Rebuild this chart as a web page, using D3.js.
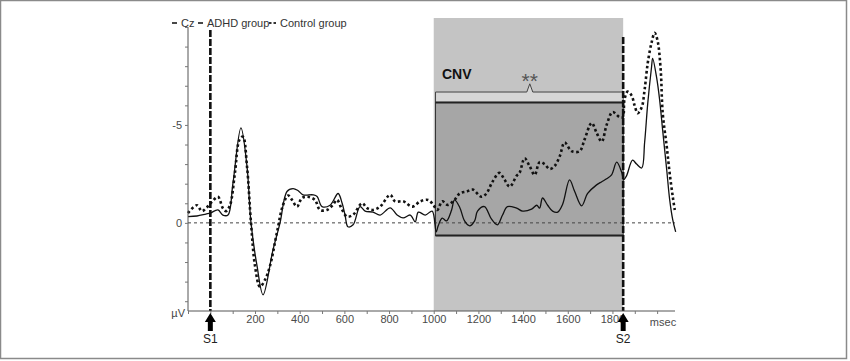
<!DOCTYPE html>
<html>
<head>
<meta charset="utf-8">
<script src="https://cdn.jsdelivr.net/npm/d3@7"></script>
<style>
  body { margin: 0; background: #fff; }
  svg { display: block; font-family: "Liberation Sans", Arial, sans-serif; }
</style>
</head>
<body>
<svg id="chart" width="850" height="361"></svg>
<script>
// ADHD group (solid), [msec, µV] - negative up
var adhdData = [
  [-100,-0.32],[-60,-0.35],[-20,-0.45],[0,-0.5],[34,-0.66],[56,-0.4],[79,-0.4],[101,-2.0],
  [137,-4.85],[164,-2.9],[182,0],[209,2.2],[236,3.67],[280,1.4],[312,0],[343,-1.6],[370,-1.75],
  [392,-1.65],[415,-1.43],[460,-1.43],[478,-1.35],[500,-0.83],[536,-0.9],[572,-1.5],[590,-1.0],
  [603,-0.4],[616,0.2],[639,0.1],[670,-0.83],[693,-0.6],[728,-0.55],[760,-0.4],[805,-0.77],
  [836,-0.4],[863,-0.25],[895,-0.4],[917,-0.05],[931,-0.55],[962,-0.4],[993,-0.6],[1011,0.46],
  [1020,0.15],[1038,-0.24],[1057,-0.1],[1080,-0.66],[1093,-1.17],[1116,-0.8],[1138,-0.1],
  [1161,0.15],[1183,-0.1],[1196,-0.6],[1227,-0.83],[1258,-0.2],[1285,0.1],[1308,-0.4],
  [1330,-0.83],[1371,-0.75],[1398,-0.6],[1438,-0.7],[1461,-0.9],[1474,-0.75],[1487,-1.27],
  [1510,-0.9],[1532,-0.6],[1555,-0.55],[1577,-0.95],[1608,-2.19],[1631,-1.6],[1662,-0.87],
  [1689,-1.5],[1729,-1.94],[1752,-2.1],[1774,-2.25],[1796,-2.45],[1819,-3.1],[1841,-2.6],
  [1850,-2.2],[1863,-2.4],[1890,-3.2],[1908,-3.0],[1931,-2.8],[1944,-4.1],[1958,-6.1],
  [1975,-7.96],[1980,-8.4],[1998,-7.4],[2011,-6.3],[2025,-4.7],[2043,-2.7],[2056,-1.2],
  [2070,-0.15],[2083,0.46]
];

// Control group (dotted)
var controlData = [
  [-100,-0.5],[-60,-0.9],[-38,-0.6],[-15,-0.8],[7,-1.07],[34,-1.33],[56,-0.75],[70,-0.6],
  [88,-0.9],[110,-2.55],[130,-4.23],[146,-4.4],[164,-2.9],[182,0],[200,2.2],[222,3.26],
  [245,2.9],[267,2.2],[298,0.5],[325,-0.9],[348,-1.4],[366,-1.17],[388,-0.83],[410,-1.27],
  [437,-1.33],[468,-1.17],[491,-0.66],[522,-0.66],[549,-0.92],[567,-1.17],[590,-0.66],
  [612,-0.32],[639,-0.41],[679,-1.0],[702,-0.75],[728,-0.66],[760,-0.83],[805,-1.43],
  [827,-1.1],[863,-1.1],[904,-0.83],[940,-1.1],[975,-1.17],[998,-0.92],[1016,-0.66],
  [1038,-1.1],[1062,-0.92],[1093,-1.17],[1116,-1.5],[1147,-1.6],[1174,-1.7],[1214,-1.33],
  [1236,-1.5],[1263,-2.1],[1294,-2.55],[1317,-2.2],[1340,-1.85],[1371,-2.4],[1384,-2.55],
  [1407,-3.3],[1429,-2.9],[1452,-2.45],[1474,-3.1],[1496,-3.0],[1519,-2.75],[1541,-2.9],
  [1564,-3.4],[1586,-4.1],[1617,-3.66],[1653,-3.66],[1675,-4.25],[1707,-5.1],[1729,-4.6],
  [1752,-4.15],[1774,-5.0],[1801,-5.66],[1832,-5.4],[1846,-5.4],[1854,-6.3],[1868,-6.7],
  [1886,-6.5],[1899,-6.0],[1913,-5.6],[1931,-5.9],[1944,-6.8],[1958,-8.16],[1975,-9.2],
  [1989,-9.7],[2002,-9.3],[2016,-7.8],[2025,-5.6],[2043,-3.9],[2056,-2.55],[2070,-1.33],
  [2079,-0.66]
];

var xTicks = d3.range(-100, 2001, 100);
var xLabels = [200, 400, 600, 800, 1000, 1200, 1400, 1600, 1800];
var yTicks = d3.range(-10, 5, 1);
var yLabels = [-5, 0];
var stimuli = [{name: 'S1', t: 0}, {name: 'S2', t: 1848}];
var shadeWindow = [1000, 1848];          // light gray window (msec)
var cnvWindow = [1008, 1848];            // CNV measurement box (msec)
var cnvRange = [-6.15, 0.65];            // CNV box µV
var bracketLevel = -6.68, bracketPeak = -7.1, bracketPeakT = 1430;

var svg = d3.select('#chart');

var x = d3.scaleLinear().domain([-100, 2080]).range([188, 675]);
var y = d3.scaleLinear().domain([-10, 4.5]).range([27, 311]);
var axisY = 311;

// frame
svg.append('rect').attr('x', 0.5).attr('y', 0.5).attr('width', 846).attr('height', 358)
  .attr('fill', 'none').attr('stroke', '#8a8a8a').attr('stroke-width', 1.5);

// light window
svg.append('rect')
  .attr('x', x(shadeWindow[0])).attr('y', 18)
  .attr('width', x(shadeWindow[1]) - x(shadeWindow[0])).attr('height', axisY - 18)
  .attr('fill', '#c4c4c4');

// bracket
var bx0 = x(cnvWindow[0]), bx1 = x(cnvWindow[1]), bp = x(bracketPeakT);
svg.append('path')
  .attr('d', 'M' + bx0 + ',' + y(cnvRange[0]) + 'V' + y(bracketLevel) + 'H' + (bp - 3) +
    'L' + bp + ',' + y(bracketPeak) + 'L' + (bp + 3) + ',' + y(bracketLevel) + 'H' + bx1 +
    'V' + y(cnvRange[0]))
  .attr('fill', '#d6d6d6').attr('stroke', '#444').attr('stroke-width', 1);

// CNV box
svg.append('rect')
  .attr('x', bx0).attr('y', y(cnvRange[0]))
  .attr('width', bx1 - bx0).attr('height', y(cnvRange[1]) - y(cnvRange[0]))
  .attr('fill', '#a6a6a6').attr('stroke', '#333').attr('stroke-width', 1);
svg.append('line').attr('x1', bx0).attr('x2', bx1)
  .attr('y1', y(cnvRange[0])).attr('y2', y(cnvRange[0]))
  .attr('stroke', '#222').attr('stroke-width', 2);
svg.append('line').attr('x1', bx0).attr('x2', bx1)
  .attr('y1', y(cnvRange[1])).attr('y2', y(cnvRange[1]))
  .attr('stroke', '#222').attr('stroke-width', 2);

svg.append('text').attr('x', 442).attr('y', 79)
  .attr('font-size', 14).attr('font-weight', 'bold').attr('fill', '#111').text('CNV');
svg.append('text').attr('x', bp).attr('y', 88).attr('text-anchor', 'middle')
  .attr('font-size', 21).attr('fill', '#555').text('**');

// zero line
svg.append('line').attr('x1', x(-100)).attr('x2', x(2080))
  .attr('y1', y(0)).attr('y2', y(0))
  .attr('stroke', '#444').attr('stroke-width', 1).attr('stroke-dasharray', '3,3');

var line = d3.line()
  .x(function (d) { return x(d[0]); })
  .y(function (d) { return y(d[1]); })
  .curve(d3.curveCatmullRom.alpha(0.5));

svg.append('path').datum(adhdData).attr('d', line)
  .attr('fill', 'none').attr('stroke', '#111').attr('stroke-width', 1.3);
svg.append('path').datum(controlData).attr('d', line)
  .attr('fill', 'none').attr('stroke', '#111').attr('stroke-width', 2.6)
  .attr('stroke-dasharray', '2.6,2.6');

// stimulus lines
stimuli.forEach(function (s, i) {
  svg.append('line').attr('x1', x(s.t)).attr('x2', x(s.t))
    .attr('y1', i === 0 ? 30 : 37).attr('y2', axisY)
    .attr('stroke', '#111').attr('stroke-width', 2.6).attr('stroke-dasharray', '7,2');
});

// axes
var gx = svg.append('g').attr('transform', 'translate(0,' + axisY + ')')
  .call(d3.axisBottom(x).tickValues(xTicks).tickSize(3)
    .tickFormat(function (d) { return xLabels.indexOf(d) >= 0 ? d : ''; }));
gx.select('.domain').attr('stroke', '#555').attr('d', 'M188,0H675');
gx.selectAll('.tick line').attr('stroke', '#777');
gx.selectAll('.tick text').attr('font-size', 11).attr('fill', '#4a4a4a')
  .attr('font-family', '"Liberation Sans", Arial, sans-serif').attr('dy', '0.55em');

var gy = svg.append('g').attr('transform', 'translate(188,0)')
  .call(d3.axisLeft(y).tickValues(yTicks).tickSize(3)
    .tickFormat(function (d) { return yLabels.indexOf(d) >= 0 ? d : ''; }));
gy.select('.domain').attr('stroke', '#555').attr('d', 'M0,' + y(-10) + 'V' + axisY);
gy.selectAll('.tick line').attr('stroke', '#777');
gy.selectAll('.tick text').attr('font-size', 11).attr('fill', '#4a4a4a')
  .attr('font-family', '"Liberation Sans", Arial, sans-serif');

svg.append('text').attr('x', 185).attr('y', 317).attr('text-anchor', 'end')
  .attr('font-size', 11).attr('fill', '#444').text('µV');
svg.append('text').attr('x', 663).attr('y', 326).attr('text-anchor', 'middle')
  .attr('font-size', 11).attr('fill', '#4a4a4a').text('msec');

// arrows
stimuli.forEach(function (s) {
  var cx = x(s.t);
  svg.append('path')
    .attr('d', 'M' + cx + ',' + (axisY + 2) + 'L' + (cx + 5.5) + ',' + (axisY + 11) +
      'H' + (cx + 2.5) + 'V' + (axisY + 20) + 'H' + (cx - 2.5) + 'V' + (axisY + 11) +
      'H' + (cx - 5.5) + 'Z')
    .attr('fill', '#000');
  svg.append('text').attr('x', cx).attr('y', axisY + 32).attr('text-anchor', 'middle')
    .attr('font-size', 12).attr('fill', '#222').text(s.name);
});

// legend
var lg = svg.append('g').attr('font-size', 11).attr('fill', '#333');
lg.append('line').attr('x1', 172).attr('x2', 177).attr('y1', 23).attr('y2', 23)
  .attr('stroke', '#333').attr('stroke-width', 1.8);
lg.append('text').attr('x', 181).attr('y', 27).text('Cz');
lg.append('line').attr('x1', 198).attr('x2', 203).attr('y1', 23).attr('y2', 23)
  .attr('stroke', '#333').attr('stroke-width', 1.8);
lg.append('text').attr('x', 207).attr('y', 27).text('ADHD group');
lg.append('line').attr('x1', 269).attr('x2', 277).attr('y1', 23).attr('y2', 23)
  .attr('stroke', '#333').attr('stroke-width', 1.8).attr('stroke-dasharray', '2.5,2');
lg.append('text').attr('x', 280).attr('y', 27).text('Control group');
</script>
</body>
</html>
